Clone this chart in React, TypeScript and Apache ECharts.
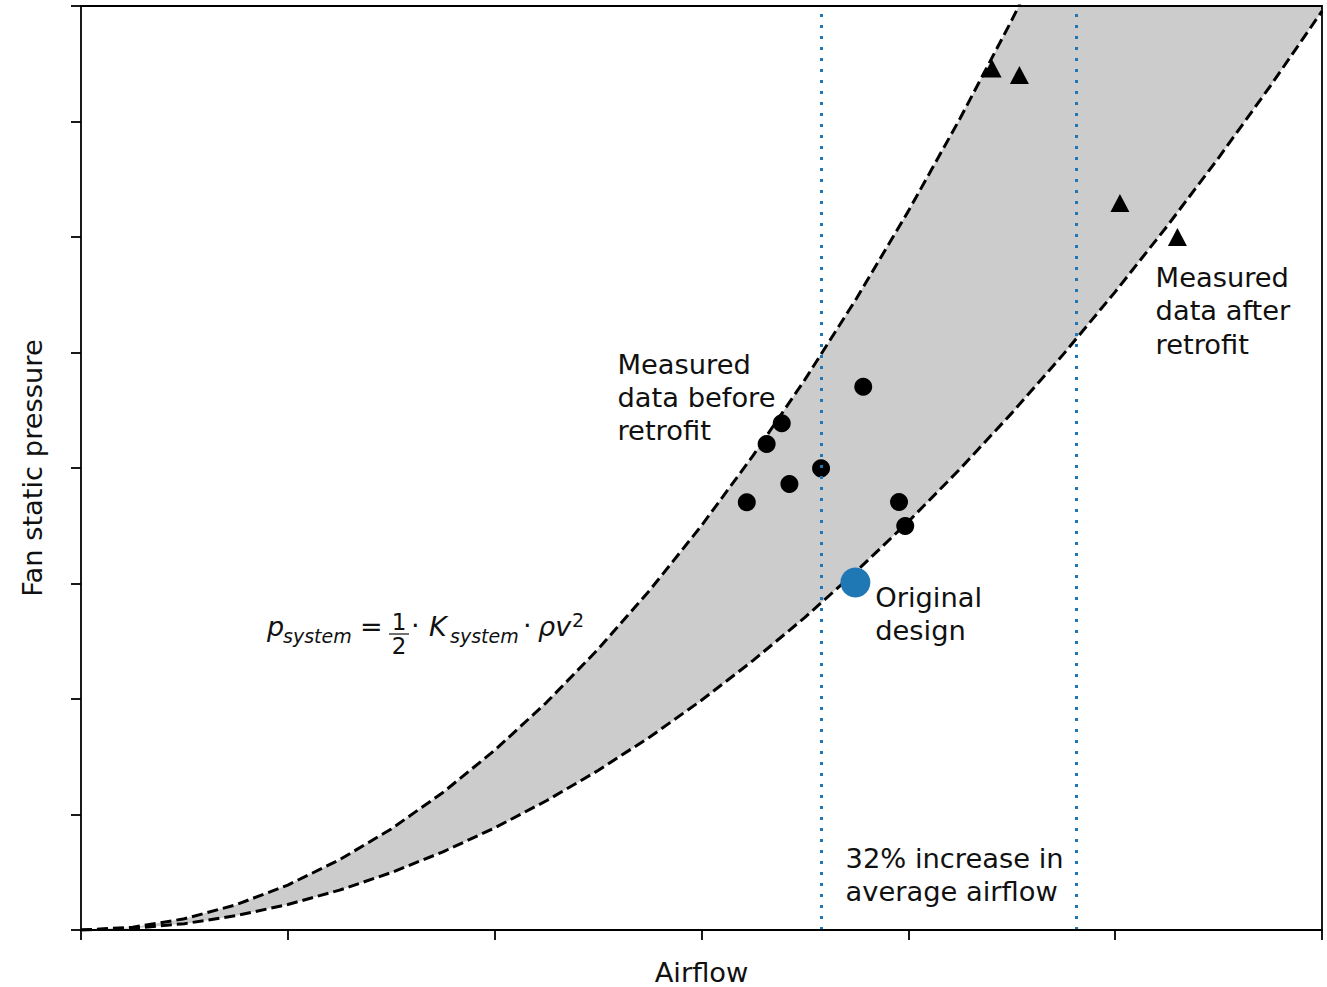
import React, { useEffect, useRef } from "react";
import * as echarts from "echarts";

// Airflow samples (x) and the two system curves
const airflowSamples = [0, 0.25, 0.5, 0.75, 1, 1.25, 1.5, 1.75, 2, 2.25, 2.5, 2.75, 3, 3.25, 3.5, 3.75, 4, 4.25, 4.5, 4.75, 5, 5.25, 5.5, 5.75, 6];
const upperSystemPressure = [0, 0.024, 0.097, 0.219, 0.389, 0.608, 0.875, 1.191, 1.556, 1.969, 2.431, 2.942, 3.501, 4.109, 4.765, 5.470, 6.224, 7.026, 7.877, 8.777, 9.725, 10.722, 11.767, 12.861, 14.004];
const lowerSystemPressure = [0, 0.014, 0.055, 0.124, 0.221, 0.345, 0.497, 0.677, 0.884, 1.119, 1.381, 1.671, 1.989, 2.334, 2.707, 3.108, 3.536, 3.992, 4.475, 4.986, 5.525, 6.091, 6.685, 7.307, 7.956];

// Measured data before retrofit (circles)
const beforeAirflow = [3.388, 3.315, 3.578, 3.425, 3.219, 3.782, 3.955, 3.985];
const beforePressure = [4.387, 4.208, 3.997, 3.861, 3.703, 4.704, 3.706, 3.498];

// Measured data after retrofit (triangles)
const afterAirflow = [4.405, 4.537, 5.023, 5.301];
const afterPressure = [7.459, 7.403, 6.294, 6.0];

// Original design point
const designAirflow = [3.744];
const designPressure = [3.009];

// Average airflow before / after (dotted verticals)
const averageAirflow = [3.576, 4.813];

const xRange = [0, 6];
const yRange = [0, 8];

const TEXT_FONT = "'DejaVu Sans', sans-serif";
const MATH_FONT = "'DejaVu Sans', sans-serif";
const TEXT_COLOR = "#111";
const TEXT_SIZE = 27.3;

function mathText(text: string, x: number, baseline: number, size: number, italic: boolean, align: string = "left") {
  return {
    type: "text",
    x,
    y: baseline - 0.346 * size,
    style: {
      text,
      fontFamily: MATH_FONT,
      fontSize: size,
      fontStyle: italic ? "italic" : "normal",
      fill: TEXT_COLOR,
      align,
      verticalAlign: "middle",
    },
  };
}

function noteText(text: string, x: number, top: number) {
  return {
    type: "text",
    x,
    y: top,
    style: {
      text,
      fontFamily: TEXT_FONT,
      fontSize: TEXT_SIZE,
      lineHeight: 33.3,
      fill: TEXT_COLOR,
      align: "left",
      verticalAlign: "top",
    },
  };
}

export default function App() {
  const ref = useRef<HTMLDivElement>(null);

  useEffect(() => {
    if (!ref.current) return;
    const chart = echarts.init(ref.current, undefined, { renderer: "svg" });

    const axisLineStyle = { color: "#000", width: 1.8 };

    const option: any = {
      animation: false,
      backgroundColor: "#fff",
      grid: { left: 81, top: 6, right: 5, bottom: 57, containLabel: false, outerBoundsMode: "none" },
      xAxis: [
        {
          type: "value",
          min: xRange[0],
          max: xRange[1],
          interval: 1,
          position: "bottom",
          z: 10,
          axisLine: { show: true, onZero: false, lineStyle: axisLineStyle },
          axisTick: { show: true, length: 10, lineStyle: axisLineStyle },
          axisLabel: { show: false },
          splitLine: { show: false },
          name: "Airflow",
          nameLocation: "middle",
          nameGap: 28.5,
          nameTextStyle: { fontFamily: TEXT_FONT, fontSize: TEXT_SIZE, color: TEXT_COLOR },
        },
        {
          type: "value",
          min: xRange[0],
          max: xRange[1],
          interval: 1,
          position: "top",
          z: 10,
          axisLine: { show: true, onZero: false, lineStyle: axisLineStyle },
          axisTick: { show: false },
          axisLabel: { show: false },
          splitLine: { show: false },
        },
      ],
      yAxis: [
        {
          type: "value",
          min: yRange[0],
          max: yRange[1],
          interval: 1,
          position: "left",
          z: 10,
          axisLine: { show: true, onZero: false, lineStyle: axisLineStyle },
          axisTick: { show: true, length: 10, lineStyle: axisLineStyle },
          axisLabel: { show: false },
          splitLine: { show: false },
          name: "Fan static pressure",
          nameLocation: "middle",
          nameGap: 35,
          nameTextStyle: { fontFamily: TEXT_FONT, fontSize: TEXT_SIZE, color: TEXT_COLOR },
        },
        {
          type: "value",
          min: yRange[0],
          max: yRange[1],
          interval: 1,
          position: "right",
          z: 10,
          axisLine: { show: true, onZero: false, lineStyle: axisLineStyle },
          axisTick: { show: false },
          axisLabel: { show: false },
          splitLine: { show: false },
        },
      ],
      series: [
        {
          type: "custom",
          z: 1,
          silent: true,
          data: [[airflowSamples[0], lowerSystemPressure[0]]],
          renderItem: (params: any, api: any) => {
            const pts: number[][] = [];
            airflowSamples.forEach((x, i) => pts.push(api.coord([x, lowerSystemPressure[i]])));
            for (let i = airflowSamples.length - 1; i >= 0; i--) {
              pts.push(api.coord([airflowSamples[i], upperSystemPressure[i]]));
            }
            const cs = params.coordSys;
            return {
              type: "polygon",
              shape: { points: pts },
              style: { fill: "#cccccc", stroke: "none" },
              clipPath: { type: "rect", shape: { x: cs.x, y: cs.y, width: cs.width, height: cs.height } },
            };
          },
        },
        {
          type: "line",
          z: 3,
          silent: true,
          symbol: "none",
          clip: true,
          data: airflowSamples.map((x, i) => [x, upperSystemPressure[i]]),
          lineStyle: { color: "#000", width: 3, type: [11, 5] },
        },
        {
          type: "line",
          z: 3,
          silent: true,
          symbol: "none",
          clip: true,
          data: airflowSamples.map((x, i) => [x, lowerSystemPressure[i]]),
          lineStyle: { color: "#000", width: 3, type: [11, 5] },
        },
        {
          type: "scatter",
          z: 4,
          symbol: "circle",
          symbolSize: 18,
          itemStyle: { color: "#000", opacity: 1 },
          data: beforeAirflow.map((x, i) => [x, beforePressure[i]]),
        },
        {
          type: "scatter",
          z: 4,
          symbol: "triangle",
          symbolSize: [19, 18],
          itemStyle: { color: "#000", opacity: 1 },
          data: afterAirflow.map((x, i) => [x, afterPressure[i]]),
        },
        {
          type: "scatter",
          z: 5,
          symbol: "circle",
          symbolSize: 30,
          itemStyle: { color: "#1f77b4", opacity: 1 },
          data: designAirflow.map((x, i) => [x, designPressure[i]]),
          markLine: {
            silent: true,
            symbol: ["none", "none"],
            label: { show: false },
            lineStyle: { color: "#1f77b4", width: 3, type: [3, 8], cap: "butt", opacity: 1 },
            data: averageAirflow.map((x) => ({ xAxis: x })),
          },
        },
      ],
      graphic: [
        noteText("Measured\ndata before\nretrofit", 617.5, 347.4),
        noteText("Measured\ndata after\nretrofit", 1155.6, 260.8),
        noteText("Original\ndesign", 875.2, 580.8),
        noteText("32% increase in\naverage airflow", 845.6, 841.4),
        mathText("p", 267, 636, 27, true),
        mathText("system", 283, 643, 19, true),
        mathText("=", 360, 636, 27, false),
        mathText("1", 399, 630, 23, false, "center"),
        {
          type: "line",
          shape: { x1: 389, y1: 634, x2: 409, y2: 634 },
          style: { stroke: TEXT_COLOR, lineWidth: 1.2 },
        },
        mathText("2", 399, 654, 23, false, "center"),
        mathText("·", 411, 635, 27, false),
        mathText("K", 429, 636, 27, true),
        mathText("system", 450, 643, 19, true),
        mathText("·", 523, 635, 27, false),
        mathText("ρv", 538, 636, 27, true),
        mathText("2", 572, 627, 19, false),
      ],
    };

    chart.setOption(option);
    return () => chart.dispose();
  }, []);

  return (
    <div
      ref={ref}
      style={{ position: "fixed", left: 0, top: 0, width: 1327, height: 987, background: "#fff" }}
    />
  );
}
